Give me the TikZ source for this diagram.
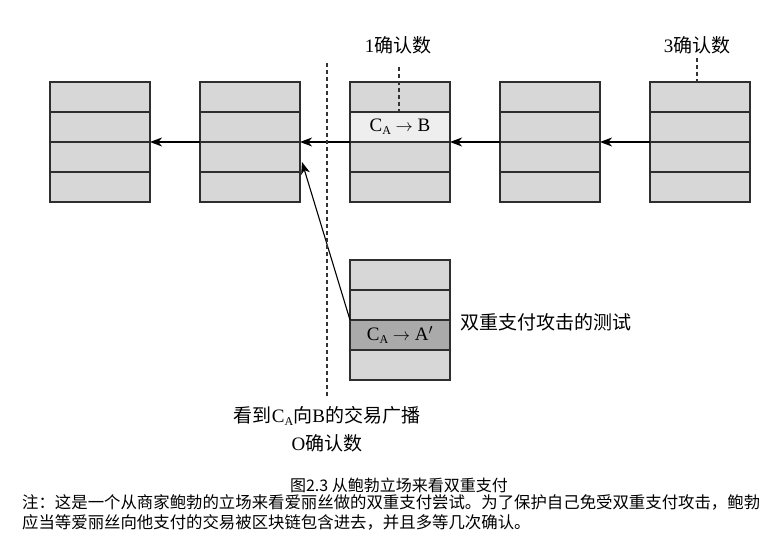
\documentclass[tikz,border=0pt]{standalone}
\usepackage{fontspec}
\setmainfont{Liberation Serif}
\newfontfamily\cjk{Noto Sans CJK SC}
\usetikzlibrary{arrows.meta,calc}
\definecolor{blkgray}{HTML}{D7D7D7}
\definecolor{lightrow}{HTML}{EEEEEE}
\definecolor{darkrow}{HTML}{AAAAAA}
\definecolor{edge}{HTML}{2E2E2E}
\newcommand{\CA}{C\raisebox{-0.35ex}{\fontsize{12}{12}\selectfont A}}
\begin{document}
\begin{tikzpicture}[x=1pt,y=-1pt,
  blk/.style={draw=edge,fill=blkgray,line width=1.2pt,minimum width=100pt,minimum height=120pt,inner sep=0pt,outer sep=0pt},
  rowline/.style={draw=edge,line width=1.2pt},
  arr/.style={draw=black,line width=1.1pt,-{Stealth[length=12pt,width=9pt,inset=3.5pt]}},
  dline/.style={draw=black!80,line width=1.4pt,dash pattern=on 4pt off 3pt},
  lbl/.style={inner sep=0pt,font=\fontsize{19}{22}\selectfont},
  note/.style={inner sep=0pt,anchor=west,font=\fontsize{16.4}{18}\selectfont\cjk}]
\useasboundingbox (0,0) rectangle (772,537);
% blocks
\foreach \i/\x in {1/100,2/250,3/400,4/550,5/700}
  \node[blk] (b\i) at (\x,142) {};
\node[blk] (t) at (400,320) {};
% highlighted rows
\fill[lightrow] ($(b3.west)+(0,-30)$) rectangle (b3.east);
\fill[darkrow] (t.west) rectangle ($(t.east)+(0,30)$);
% row lines
\foreach \n in {b1,b2,b3,b4,b5,t}{
  \foreach \dy in {-30,0,30}
    \draw[rowline] ($(\n.west)+(0,\dy)$) -- ($(\n.east)+(0,\dy)$);
  \draw[rowline] (\n.north west) rectangle (\n.south east);
}
% labels in rows
\node[lbl] (tx1) at ($(b3.center)+(0,-15)$) {\CA{} $\rightarrow$ B};
\node[lbl] (tx2) at ($(t.center)+(0,15)$) {\CA{} $\rightarrow$ A$'$};
% arrows
\draw[arr] (b5.west) -- (b4.east);
\draw[arr] (b4.west) -- (b3.east);
\draw[arr] (b3.west) -- (b2.east);
\draw[arr] (b2.west) -- (b1.east);
\coordinate (hit) at (302,162);
\draw[arr] (t.west) -- (hit);
% confirmation labels
\node[lbl] (l1) at (398,45) {1{\cjk 确认数}};
\node[lbl] (l3) at (697,45) {3{\cjk 确认数}};
\coordinate (l1a) at (399,67);
\coordinate (l1b) at (399,112);
\draw[dline] (l1a) -- (l1b);
\coordinate (l3a) at (697,58);
\coordinate (l3b) at (697,82);
\draw[dline] (l3a) -- (l3b);
% broadcast line
\coordinate (da) at (327,63);
\coordinate (db) at (327,396);
\draw[dline] (da) -- (db);
\node[lbl] (bc) at (327,416) {{\cjk 看到}\CA{\cjk 向}B{\cjk 的交易广播}};
\node[lbl] (bc0) at (327,443) {O{\cjk 确认数}};
% attack label
\node[lbl,anchor=west] (att) at (460,322) {\cjk 双重支付攻击的测试};
% caption and notes
\node[inner sep=0pt,font=\fontsize{16}{18}\selectfont\cjk] (cap) at (399,485) {图2.3 从鲍勃立场来看双重支付};
\node[note] (n1) at (22,502) {注：这是一个从商家鲍勃的立场来看爱丽丝做的双重支付尝试。为了保护自己免受双重支付攻击，鲍勃};
\node[note] (n2) at (22,522) {应当等爱丽丝向他支付的交易被区块链包含进去，并且多等几次确认。};
\end{tikzpicture}
\end{document}
